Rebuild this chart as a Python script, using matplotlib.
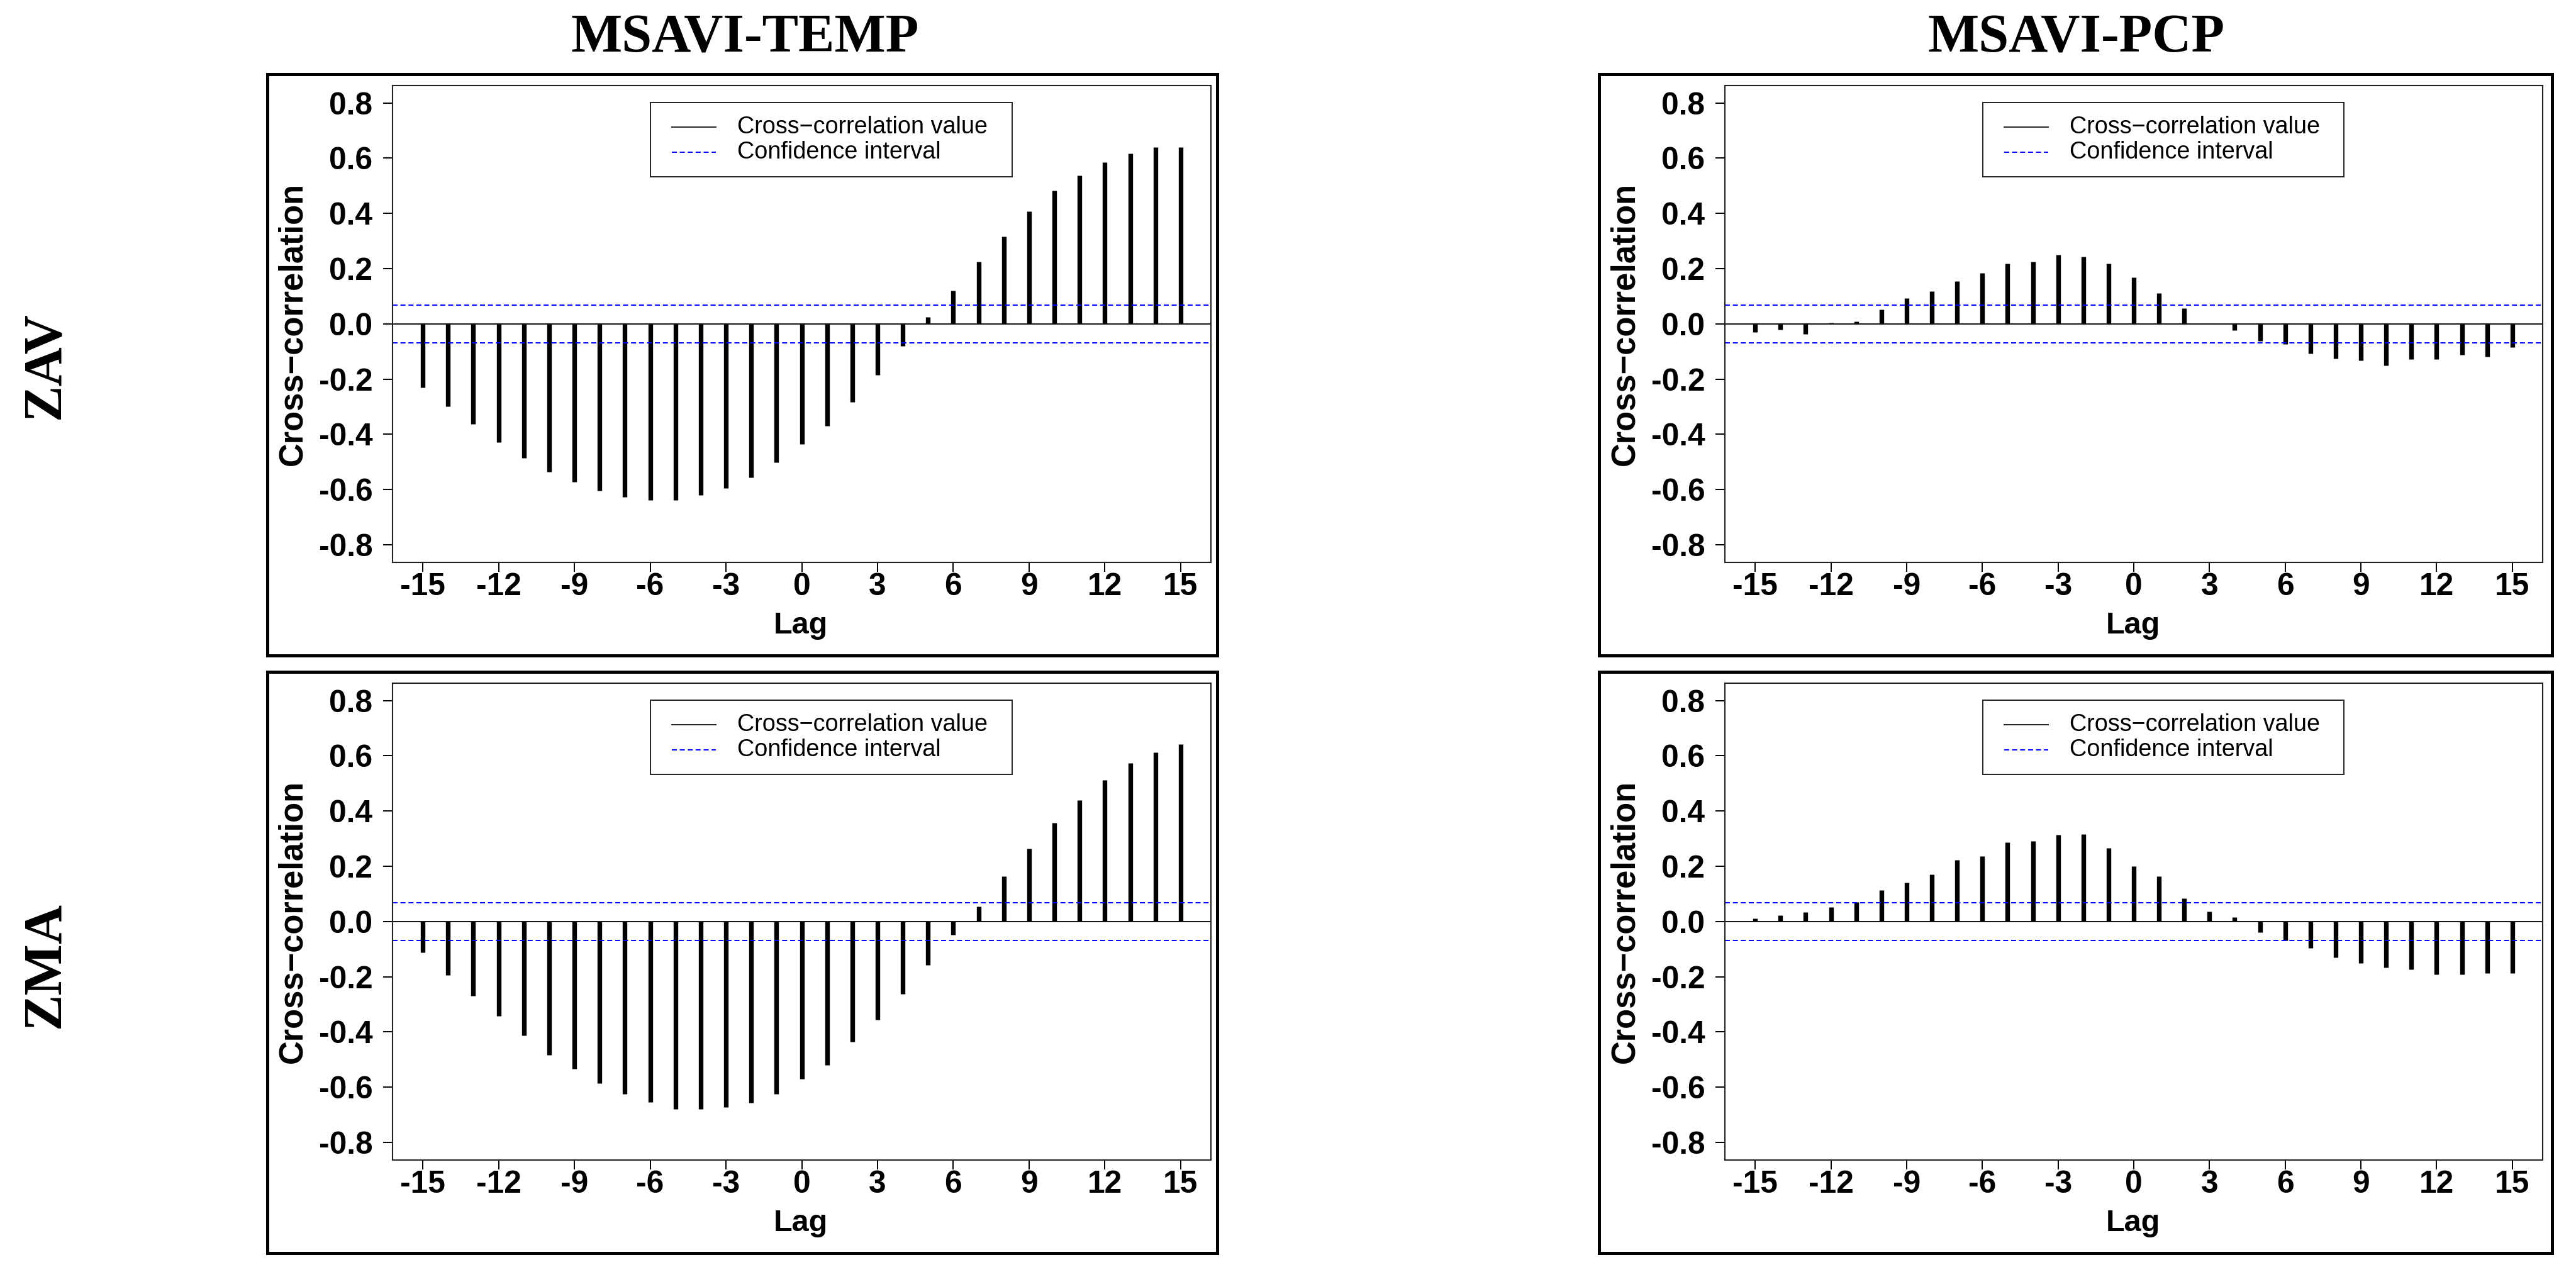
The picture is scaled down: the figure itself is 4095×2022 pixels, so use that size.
import matplotlib
matplotlib.use("Agg")
import matplotlib.pyplot as plt
from matplotlib.patches import Rectangle
from matplotlib.lines import Line2D

plt.rcParams['axes.unicode_minus'] = False
plt.rcParams['font.family'] = ['Liberation Sans', 'DejaVu Sans']

# ---------------- data ----------------
lags = list(range(-15, 16))

zav_temp = [-0.230, -0.299, -0.363, -0.429, -0.486, -0.536, -0.573, -0.605, -0.627, -0.638,
            -0.638, -0.620, -0.595, -0.556, -0.501, -0.436, -0.370, -0.284, -0.186, -0.081,
            0.024, 0.120, 0.226, 0.316, 0.408, 0.483, 0.538, 0.585, 0.617, 0.640, 0.640]

zav_pcp = [-0.031, -0.022, -0.038, 0.003, 0.008, 0.052, 0.092, 0.117, 0.154, 0.183,
           0.219, 0.226, 0.249, 0.244, 0.218, 0.168, 0.110, 0.056, 0.001, -0.024,
           -0.063, -0.074, -0.108, -0.126, -0.133, -0.151, -0.128, -0.128, -0.113, -0.119, -0.085]

zma_temp = [-0.113, -0.194, -0.270, -0.342, -0.413, -0.483, -0.534, -0.585, -0.624, -0.654,
            -0.679, -0.679, -0.672, -0.656, -0.624, -0.570, -0.520, -0.436, -0.356, -0.263,
            -0.158, -0.049, 0.054, 0.163, 0.263, 0.356, 0.439, 0.511, 0.573, 0.613, 0.642]

zma_pcp = [0.011, 0.022, 0.034, 0.052, 0.070, 0.113, 0.141, 0.170, 0.222, 0.236,
           0.286, 0.291, 0.313, 0.316, 0.265, 0.200, 0.163, 0.084, 0.036, 0.015,
           -0.039, -0.068, -0.096, -0.130, -0.152, -0.166, -0.173, -0.193, -0.193, -0.187, -0.187]

conf_limit = 0.068

col_titles = ["MSAVI-TEMP", "MSAVI-PCP"]
row_titles = ["ZAV", "ZMA"]
x_ticks = [-15, -12, -9, -6, -3, 0, 3, 6, 9, 12, 15]
y_ticks = [-0.8, -0.6, -0.4, -0.2, 0.0, 0.2, 0.4, 0.6, 0.8]
legend_labels = ["Cross\u2212correlation value", "Confidence interval"]
x_label = "Lag"
y_label = "Cross\u2212correlation"

series = [[zav_temp, zav_pcp], [zma_temp, zma_pcp]]

# ---------------- layout ----------------
W, H = 4095, 2022
fig = plt.figure(figsize=(W / 100, H / 100), dpi=100)

def fx(px):
    return px / W

def fy(py):
    return 1 - py / H

ax_left_px = [624, 2742]
ax_width_px = [1301, 1300]
ax_top_px = [135.5, 1085.5]
ax_h_px = 758.5

outer_x = [(425, 1935), (2542, 4057)]
outer_y = [(118, 1042), (1068, 1992)]

dash = (0, (4.1, 2.4))
tick_fs = 35.7
for r in range(2):
    for c in range(2):
        l = fx(ax_left_px[c])
        b = fy(ax_top_px[r] + ax_h_px)
        ax = fig.add_axes([l, b, ax_width_px[c] / W, ax_h_px / H])
        vals = series[r][c]
        ax.vlines(lags, 0, vals, colors='black', linewidth=5.3, capstyle='butt')
        ax.axhline(0, color='#111111', linewidth=1.4)
        ax.axhline(conf_limit, color='#0000FF', linewidth=1.4, linestyle=dash)
        ax.axhline(-conf_limit, color='#0000FF', linewidth=1.4, linestyle=dash)
        ax.set_xlim(-16.2, 16.2)
        ax.set_ylim(-0.864, 0.864)
        ax.set_xticks(x_ticks)
        ax.set_xticklabels([str(t) for t in x_ticks])
        ax.set_yticks(y_ticks)
        ax.set_yticklabels([f"{t:.1f}" for t in y_ticks])
        ax.tick_params(axis='both', direction='out', length=10.8, width=1.4,
                       labelsize=tick_fs, color='black')
        ax.tick_params(axis='x', pad=1)
        ax.tick_params(axis='y', pad=12)
        for lab in ax.get_xticklabels() + ax.get_yticklabels():
            lab.set_fontweight('bold')
        for s in ax.spines.values():
            s.set_color('#222222')
            s.set_linewidth(1.5)
        ax.set_ylabel(y_label, fontsize=37.8, fontweight='bold')
        ax.yaxis.set_label_coords(-0.1222, 0.5)
        ax.yaxis.label.set_va('center')
        ax.set_xlabel(x_label, fontsize=35, fontweight='bold')
        ax.xaxis.set_label_coords(0.4988, -0.133)
        ax.xaxis.label.set_va('center')

        # legend box (drawn in axes coordinates)
        ax.add_patch(Rectangle((0.3151, 0.8081), 0.4420, 0.1550, transform=ax.transAxes,
                               fill=True, facecolor='white', edgecolor='#222222',
                               linewidth=1.4, zorder=5))
        ax.add_line(Line2D([0.3413, 0.3951], [0.9123, 0.9123], transform=ax.transAxes,
                           color='#222222', linewidth=1.4, zorder=6))
        ax.add_line(Line2D([0.3413, 0.3951], [0.8596, 0.8596], transform=ax.transAxes,
                           color='#0000FF', linewidth=1.4, linestyle=dash, zorder=6))
        ax.text(0.4212, 0.9123, legend_labels[0], transform=ax.transAxes, fontsize=27.2,
                ha='left', va='center', zorder=7)
        ax.text(0.4212, 0.8596, legend_labels[1], transform=ax.transAxes, fontsize=27.2,
                ha='left', va='center', zorder=7)

        x0, x1 = outer_x[c]
        y0, y1 = outer_y[r]
        fig.add_artist(Rectangle((fx(x0), fy(y1)), (x1 - x0) / W, (y1 - y0) / H,
                                 transform=fig.transFigure, fill=False,
                                 edgecolor='black', linewidth=3.6))

serif = ['Liberation Serif', 'DejaVu Serif']
title_x = [1184, 3301]
for c in range(2):
    fig.text(fx(title_x[c]), fy(82), col_titles[c], family=serif, fontweight='bold',
             fontsize=62, ha='center', va='baseline')

row_y = [581, 1533]
for r in range(2):
    fig.text(fx(93), fy(row_y[r]), row_titles[r], family=serif, fontweight='bold',
             fontsize=62, ha='center', va='baseline', rotation=90, rotation_mode='anchor')

fig.savefig("out.png", dpi=100, facecolor='white')
